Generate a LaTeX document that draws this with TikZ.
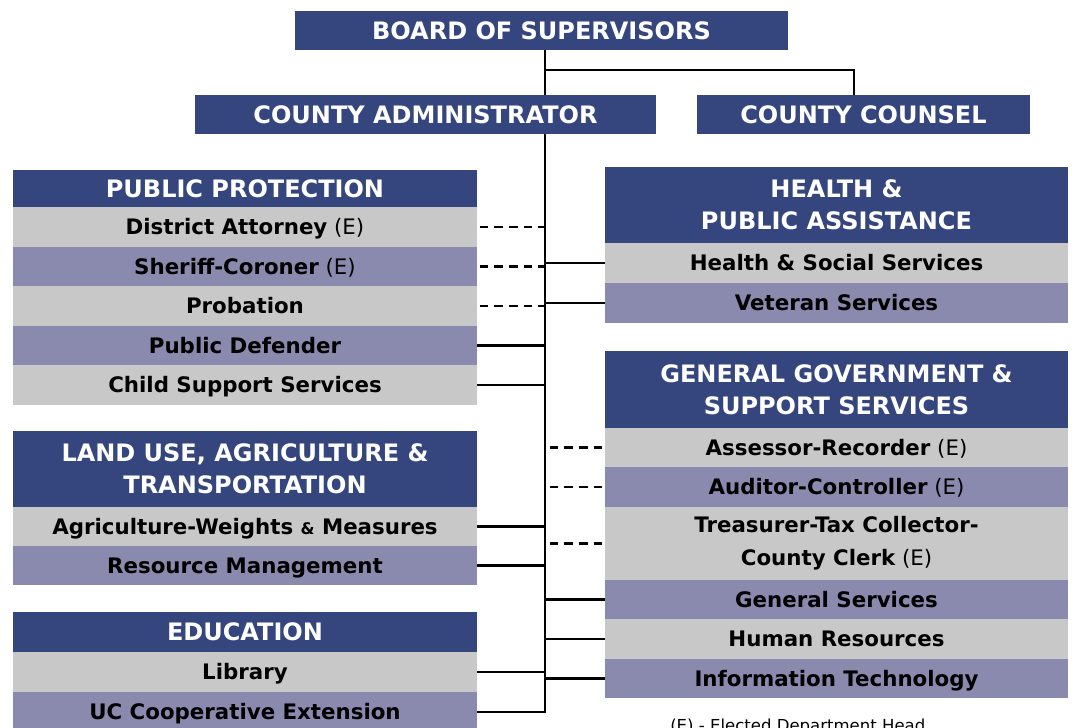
\documentclass[tikz,border=0pt]{standalone}
\usepackage{fontspec}
\setmainfont{DejaVu Sans}
\usetikzlibrary{backgrounds}
\definecolor{hdrblue}{RGB}{53,70,126}
\definecolor{rowgray}{RGB}{200,200,200}
\definecolor{rowpurple}{RGB}{138,137,174}
\newcommand\orgbox[7]{\node[#6, anchor=north west, minimum width={(#4-#2)*0.75pt}, minimum height={(#5-#3)*0.75pt}] (#1) at (#2,#3) {#7};}
\newcommand\el{\mdseries\ (E)}
\begin{document}
\begin{tikzpicture}[x=0.75pt,y=-0.75pt,
 boxbase/.style={inner sep=0pt, outer sep=0pt, align=center},
 hdr/.style={boxbase, fill=hdrblue, text=white, font=\fontsize{18}{24}\selectfont\bfseries},
 rowfont/.style={boxbase, font=\fontsize{16}{24.5}\selectfont\bfseries},
 grayrow/.style={rowfont, fill=rowgray, text height=11.6pt, text depth=0pt},
 purplerow/.style={rowfont, fill=rowpurple, text height=11.6pt, text depth=0pt},
 tallgray/.style={rowfont, fill=rowgray},
 solidlink/.style={line width=1.8pt},
 dashlink/.style={line width=1.8pt, dash pattern=on 6.5pt off 4.5pt, shorten <=2pt}]
\useasboundingbox (0,0) rectangle (1075,728);
\clip (0,0) rectangle (1075,728);
% top
\orgbox{board}{295}{11}{788}{50}{hdr}{BOARD OF SUPERVISORS}
\orgbox{ca}{195}{95}{656}{134}{hdr}{COUNTY ADMINISTRATOR}
\orgbox{cc}{697}{95}{1030}{134}{hdr}{COUNTY COUNSEL}
% left column
\orgbox{pp}{13}{170}{477}{207}{hdr}{PUBLIC PROTECTION}
\orgbox{da}{13}{207}{477}{247}{grayrow}{District Attorney\el}
\orgbox{sc}{13}{247}{477}{286}{purplerow}{Sheriff-Coroner\el}
\orgbox{prob}{13}{286}{477}{326}{grayrow}{Probation}
\orgbox{pd}{13}{326}{477}{365}{purplerow}{Public Defender}
\orgbox{css}{13}{365}{477}{405}{grayrow}{Child Support Services}
\orgbox{lu}{13}{431}{477}{507}{hdr}{LAND USE, AGRICULTURE \&\\TRANSPORTATION}
\orgbox{agri}{13}{507}{477}{546}{grayrow}{Agriculture-Weights {\fontsize{12}{14}\selectfont\&} Measures}
\orgbox{rm}{13}{546}{477}{585}{purplerow}{Resource Management}
\orgbox{edu}{13}{612}{477}{652}{hdr}{EDUCATION}
\orgbox{lib}{13}{652}{477}{692}{grayrow}{Library}
\orgbox{uc}{13}{692}{477}{732}{purplerow}{UC Cooperative Extension}
% right column
\orgbox{hpa}{605}{167}{1068}{243}{hdr}{HEALTH \&\\PUBLIC ASSISTANCE}
\orgbox{hss}{605}{243}{1068}{283}{grayrow}{Health \& Social Services}
\orgbox{vs}{605}{283}{1068}{323}{purplerow}{Veteran Services}
\orgbox{gg}{605}{351}{1068}{428}{hdr}{GENERAL GOVERNMENT \&\\SUPPORT SERVICES}
\orgbox{ar}{605}{428}{1068}{467}{grayrow}{Assessor-Recorder\el}
\orgbox{ac}{605}{467}{1068}{507}{purplerow}{Auditor-Controller\el}
\orgbox{ttc}{605}{507}{1068}{580}{tallgray}{Treasurer-Tax Collector-\\County Clerk\el}
\orgbox{gs}{605}{580}{1068}{619}{purplerow}{General Services}
\orgbox{hr}{605}{619}{1068}{659}{grayrow}{Human Resources}
\orgbox{it}{605}{659}{1068}{698}{purplerow}{Information Technology}
\node[anchor=base west, inner sep=0pt, font=\fontsize{12.4}{15}\selectfont] (note) at (670,731) {(E) - Elected Department Head};
% connectors
\begin{scope}[on background layer]
\coordinate (jn) at (545,70);
\coordinate (trunkend) at (545,713);
\coordinate (ccdrop) at (854,95);
\draw[solidlink] (board.south -| jn) -- (trunkend);
\draw[solidlink] (jn) -| (ccdrop);
\foreach \n in {da,sc,prob}{\draw[dashlink] (\n.east) -- (\n.east -| jn);}
\foreach \n in {pd,css,agri,rm,lib,uc}{\draw[solidlink] (\n.east) -- (\n.east -| jn);}
\foreach \n in {ar,ac,ttc}{\draw[dashlink] (\n.west) -- (\n.west -| jn);}
\foreach \n in {hss,vs,gs,hr,it}{\draw[solidlink] (\n.west) -- (\n.west -| jn);}
\end{scope}
\end{tikzpicture}
\end{document}
